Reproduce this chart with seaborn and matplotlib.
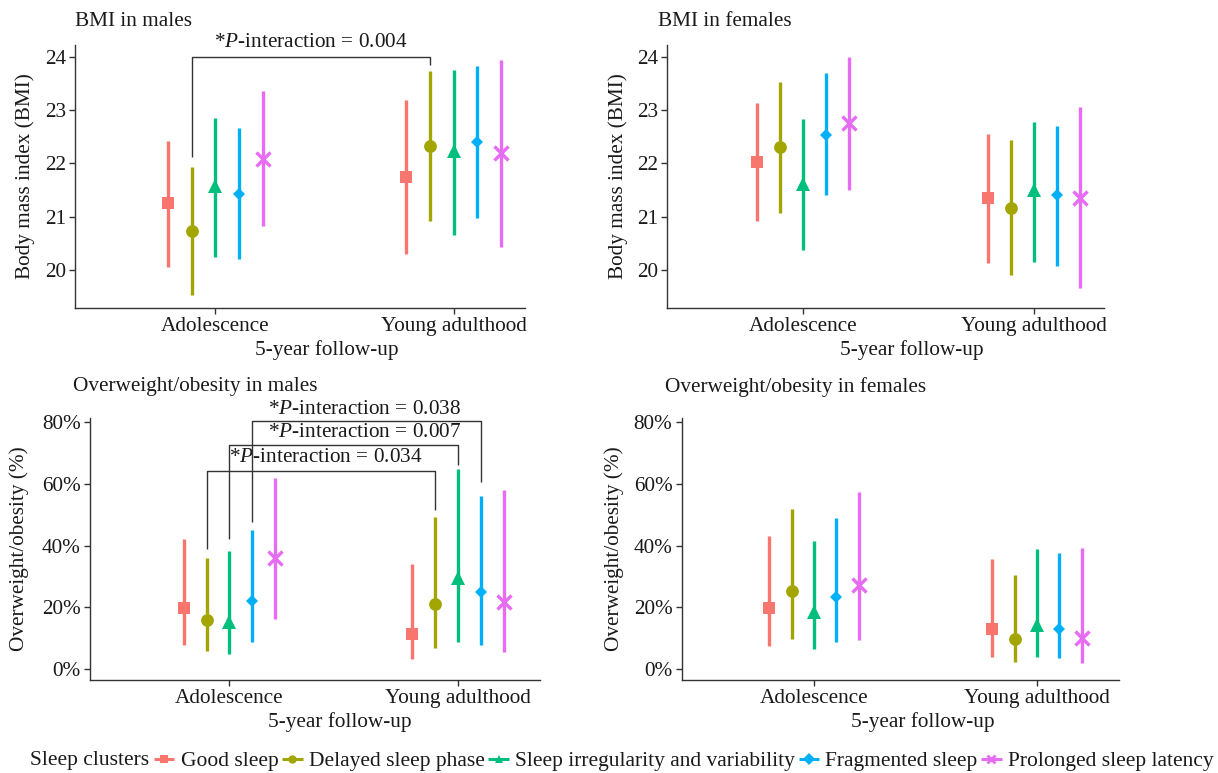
import numpy as np
import pandas as pd
import seaborn as sns
import matplotlib.pyplot as plt
from matplotlib.lines import Line2D

periods = ['Adolescence', 'Young adulthood']
clusters = ['Good sleep', 'Delayed sleep phase', 'Sleep irregularity and variability',
            'Fragmented sleep', 'Prolonged sleep latency']
colors = ['#F8766D', '#A3A500', '#00BF7D', '#00B0F6', '#E76BF3']
markers = ['s', 'o', '^', 'D', 'x']

# rows = periods, columns = clusters
bmi_m_est = [[21.25, 20.74, 21.58, 21.43, 22.09],
             [21.75, 22.33, 22.24, 22.40, 22.19]]
bmi_m_lo = [[20.06, 19.53, 20.25, 20.21, 20.83],
            [20.31, 20.93, 20.66, 20.98, 20.44]]
bmi_m_hi = [[22.42, 21.94, 22.86, 22.66, 23.36],
            [23.19, 23.73, 23.75, 23.82, 23.94]]

bmi_f_est = [[22.02, 22.30, 21.61, 22.54, 22.75],
             [21.36, 21.17, 21.50, 21.40, 21.36]]
bmi_f_lo = [[20.92, 21.08, 20.37, 21.40, 21.51],
            [20.14, 19.90, 20.16, 20.08, 19.66]]
bmi_f_hi = [[23.13, 23.52, 22.84, 23.69, 23.99],
            [22.56, 22.43, 22.78, 22.71, 23.06]]

ow_m_est = [[19.7, 15.9, 15.4, 22.2, 36.1],
            [11.4, 21.0, 29.6, 24.9, 21.8]]
ow_m_lo = [[7.7, 5.8, 4.9, 8.9, 16.2],
           [3.1, 6.7, 8.6, 7.8, 5.4]]
ow_m_hi = [[42.1, 36.1, 38.4, 45.1, 61.9],
           [34.1, 49.4, 64.8, 56.1, 58.1]]

ow_f_est = [[19.9, 25.4, 18.6, 23.5, 27.2],
            [13.0, 9.7, 14.3, 12.9, 9.9]]
ow_f_lo = [[7.6, 9.8, 6.4, 8.9, 9.4],
           [3.8, 2.4, 3.8, 3.5, 1.8]]
ow_f_hi = [[43.2, 51.8, 41.6, 48.9, 57.5],
           [35.6, 30.5, 38.8, 37.5, 39.4]]

# interaction brackets: cluster, left foot, bar height, right foot, label x, label y, p
bmi_m_brackets = [('Delayed sleep phase', 22.12, 24.0, 23.84, 0.40, 24.26, '0.004')]
ow_m_brackets = [
    ('Delayed sleep phase', 38.8, 64.2, 51.5, 0.42, 68.6, '0.034'),
    ('Sleep irregularity and variability', 42.0, 72.8, 66.1, 0.59, 76.7, '0.007'),
    ('Fragmented sleep', 47.7, 80.3, 60.7, 0.59, 84.1, '0.038'),
]

sns.set_theme(style='ticks')
plt.rcParams['font.family'] = ['Liberation Serif', 'DejaVu Serif']
plt.rcParams['mathtext.fontset'] = 'custom'
plt.rcParams['mathtext.rm'] = 'Liberation Serif'
plt.rcParams['mathtext.it'] = 'Liberation Serif:italic'
plt.rcParams['lines.solid_capstyle'] = 'butt'

TXT = '#1a1a1a'
FS = 15.3
W, H = 1218, 773
fig = plt.figure(figsize=(W / 100, H / 100), dpi=100)


def long_frame(est, lo, hi):
    rows = []
    for i, p in enumerate(periods):
        for j, c in enumerate(clusters):
            for v in (lo[i][j], est[i][j], hi[i][j]):
                rows.append({'period': p, 'cluster': c, 'value': v})
    return pd.DataFrame(rows)


def panel(box, xlim, ylim, est, lo, hi, yticks, pct, title, title_xy, ylab, ylab_x, xlab_x, xlab_y):
    l, t, r, b = box
    ax = fig.add_axes([l / W, 1 - b / H, (r - l) / W, (b - t) / H])
    df = long_frame(est, lo, hi)
    sns.pointplot(data=df, x='period', y='value', hue='cluster', order=periods,
                  hue_order=clusters, palette=colors, markers=markers, linestyles='none',
                  dodge=0.4, estimator='median', errorbar=('pi', 100),
                  err_kws={'linewidth': 2.4}, legend=False, ax=ax)
    sizes = {'s': 9.0, 'o': 9.2, '^': 10.5, 'D': 6.5, 'x': 10.0}
    for ln in ax.lines:
        m = ln.get_marker()
        if m in sizes:
            ln.set_markersize(sizes[m])
            ln.set_markeredgewidth(2.4 if m == 'x' else 0)
            ln.set_zorder(4)
    ax.set_xlim(*xlim)
    ax.set_ylim(*ylim)
    ax.set_yticks(yticks)
    if pct:
        ax.set_yticklabels([f'{v}%' for v in yticks])
    ax.set_xlabel('')
    ax.set_ylabel('')
    for s in ['top', 'right']:
        ax.spines[s].set_visible(False)
    for s in ['left', 'bottom']:
        ax.spines[s].set_color('#333333')
        ax.spines[s].set_linewidth(1.0)
    ax.tick_params(length=4.5, width=1.0, color='#333333', labelsize=FS,
                   labelcolor=TXT, pad=2)
    fig.text(title_xy[0] / W, 1 - title_xy[1] / H, title, fontsize=FS, color=TXT,
             ha='left', va='center')
    fig.text(ylab_x / W, 1 - (t + b) / 2 / H, ylab, fontsize=FS, color=TXT,
             rotation=90, ha='center', va='center')
    fig.text(xlab_x / W, 1 - xlab_y / H, '5-year follow-up', fontsize=FS, color=TXT,
             ha='center', va='center')
    return ax


def brackets(ax, specs):
    for cl, y_l, y_top, y_r, tx, ty, p in specs:
        off = -0.2 + 0.1 * clusters.index(cl)
        xs = [0 + off, 0 + off, 1 + off, 1 + off]
        ax.plot(xs, [y_l, y_top, y_top, y_r], color='#333333', lw=1.0,
                clip_on=False, zorder=5)
        ax.text(tx, ty, r'*$\mathit{P}$-interaction = ' + p, fontsize=FS, color=TXT,
                ha='center', va='center', clip_on=False)


ax1 = panel((75, 45, 525, 308), (-0.59, 1.30), (19.29, 24.22), bmi_m_est, bmi_m_lo, bmi_m_hi,
            [20, 21, 22, 23, 24], False, 'BMI in males', (75, 22),
            'Body mass index (BMI)', 25, 327, 350)
brackets(ax1, bmi_m_brackets)

ax2 = panel((667, 45, 1104, 308), (-0.59, 1.303), (19.29, 24.22), bmi_f_est, bmi_f_lo, bmi_f_hi,
            [20, 21, 22, 23, 24], False, 'BMI in females', (658, 22),
            'Body mass index (BMI)', 618, 912, 350)

ax3 = panel((90, 418, 540, 680), (-0.61, 1.358), (-3.57, 81.4), ow_m_est, ow_m_lo, ow_m_hi,
            [0, 20, 40, 60, 80], True, 'Overweight/obesity in males', (73, 387),
            'Overweight/obesity (%)', 19, 340, 722)
brackets(ax3, ow_m_brackets)

ax4 = panel((681.5, 418, 1119, 680), (-0.594, 1.368), (-3.57, 81.4), ow_f_est, ow_f_lo, ow_f_hi,
            [0, 20, 40, 60, 80], True, 'Overweight/obesity in females', (665, 387),
            'Overweight/obesity (%)', 614, 923, 722)

# legend along the bottom
handles = [Line2D([0], [0], color=c, marker=m, ms=6, lw=2.2,
                  mew=(2 if m == 'x' else 0)) for c, m in zip(colors, markers)]
fig.text(30 / W, 1 - 760 / H, 'Sleep clusters', fontsize=15.5, color=TXT,
         ha='left', va='center')
fig.legend(handles, clusters, loc='center left', bbox_to_anchor=(154 / W, 1 - 761 / H),
           ncol=5, frameon=False, fontsize=15.5, handlelength=0.95, handletextpad=0.3,
           columnspacing=0.16, borderpad=0, borderaxespad=0, labelcolor=TXT)

fig.savefig('out.png', dpi=100)
